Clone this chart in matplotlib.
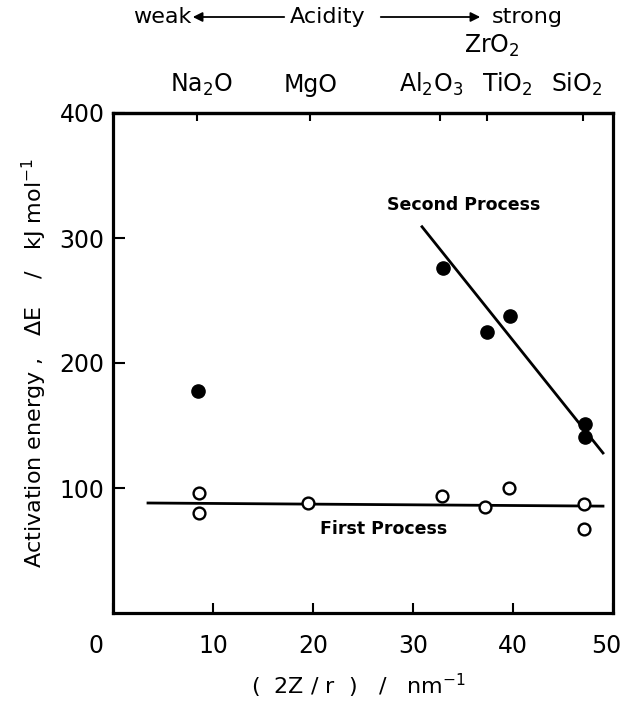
import matplotlib
matplotlib.use('Agg')
import matplotlib.pyplot as plt
from matplotlib.transforms import blended_transform_factory, ScaledTranslation

plt.rcParams['font.family'] = ['DejaVu Sans']
plt.rcParams['mathtext.fontset'] = 'custom'
plt.rcParams['mathtext.rm'] = 'DejaVu Sans'
plt.rcParams['mathtext.it'] = 'DejaVu Sans:italic'
plt.rcParams['mathtext.bf'] = 'DejaVu Sans:bold'

# ---- data ----
second_x = [8.5, 33.0, 37.4, 39.7, 47.2, 47.2]
second_y = [178, 276, 225, 238, 151, 141]
first_x = [8.6, 8.6, 19.5, 32.9, 37.2, 39.6, 47.1, 47.1]
first_y = [96, 80, 88, 94, 85, 100, 87, 67]

second_fit_x = [30.9, 49.0]
second_fit_y = [309, 128]
first_fit_x = [3.5, 49.0]
first_fit_y = [88, 85.5]

x_ticks = [0, 10, 20, 30, 40, 50]
y_ticks = [100, 200, 300, 400]

oxide_tick_x = [8.4, 19.7, 32.7, 37.4, 47.0]
oxide_labels = [r'Na$\mathregular{_2}$O', 'MgO', r'Al$\mathregular{_2}$O$\mathregular{_3}$',
                r'TiO$\mathregular{_2}$', r'SiO$\mathregular{_2}$']
oxide_label_x = [8.8, 19.8, 31.8, 39.4, 46.4]
zro2_label = r'ZrO$\mathregular{_2}$'
zro2_x = 37.9

fig = plt.figure(figsize=(6.23, 7.03), dpi=100)
ax = fig.add_axes([113 / 623, 1 - 613 / 703, 500 / 623, 500 / 703])

ax.plot(first_fit_x, first_fit_y, color='black', lw=2.0, zorder=2)
ax.plot(second_fit_x, second_fit_y, color='black', lw=2.0, zorder=2)
ax.plot(first_x, first_y, 'o', ms=8.5, mfc='white', mec='black', mew=1.7, zorder=3)
ax.plot(second_x, second_y, 'o', ms=9.5, mfc='black', mec='black', zorder=3)

ax.text(35.1, 326, 'Second Process', fontsize=12.5, fontweight='bold', ha='center', va='center')
ax.text(27.1, 67, 'First Process', fontsize=12.5, fontweight='bold', ha='center', va='center')

ax.set_xlim(0, 50)
ax.set_ylim(0, 400)
ax.set_xticks(x_ticks)
ax.set_yticks(y_ticks)
ax.tick_params(axis='x', direction='in', length=7, width=1.5, labelsize=17, pad=15)
ax.tick_params(axis='y', direction='in', length=8.5, width=1.5, labelsize=17, pad=6)
for sp in ax.spines.values():
    sp.set_linewidth(2.3)

# shift the "0" and "50" labels as in the original
xlbls = ax.get_xticklabels()
xlbls[0].set_transform(xlbls[0].get_transform() + ScaledTranslation(-17 / 100, 0, fig.dpi_scale_trans))
xlbls[-1].set_transform(xlbls[-1].get_transform() + ScaledTranslation(-7 / 100, 0, fig.dpi_scale_trans))

ax.set_xlabel(r'(  2Z / r  )   /   nm$^{-1}$', fontsize=16)
ax.xaxis.set_label_coords(0.492, -0.118)
ax.set_ylabel(r'Activation energy ,   $\Delta$E    /   kJ mol$^{-1}$', fontsize=16)
ax.yaxis.set_label_coords(-0.128, 0.5)

# top axis with oxide ticks
sec = ax.secondary_xaxis('top')
sec.set_xticks(oxide_tick_x)
sec.set_xticklabels([''] * len(oxide_tick_x))
sec.tick_params(direction='in', length=6, width=1.5)
sec.spines['top'].set_linewidth(2.3)

tr = blended_transform_factory(ax.transData, fig.transFigure)
for lx, lab in zip(oxide_label_x, oxide_labels):
    ax.text(lx, 1 - 92 / 703, lab, transform=tr, fontsize=17, ha='center', va='baseline')
ax.text(zro2_x, 1 - 53 / 703, zro2_label, transform=tr, fontsize=17, ha='center', va='baseline')

# acidity header
yb = 1 - 23 / 703
fig.text(162 / 623, yb, 'weak', fontsize=16, ha='center', va='baseline')
fig.text(328 / 623, yb, 'Acidity', fontsize=16, ha='center', va='baseline')
fig.text(527 / 623, yb, 'strong', fontsize=16, ha='center', va='baseline')
ya = 1 - 17 / 703
fig.add_artist(matplotlib.patches.FancyArrowPatch((287 / 623, ya), (190 / 623, ya),
               transform=fig.transFigure, arrowstyle='-|>', mutation_scale=14, lw=1.3, color='black'))
fig.add_artist(matplotlib.patches.FancyArrowPatch((378 / 623, ya), (483 / 623, ya),
               transform=fig.transFigure, arrowstyle='-|>', mutation_scale=14, lw=1.3, color='black'))

fig.savefig('out.png', dpi=100)
